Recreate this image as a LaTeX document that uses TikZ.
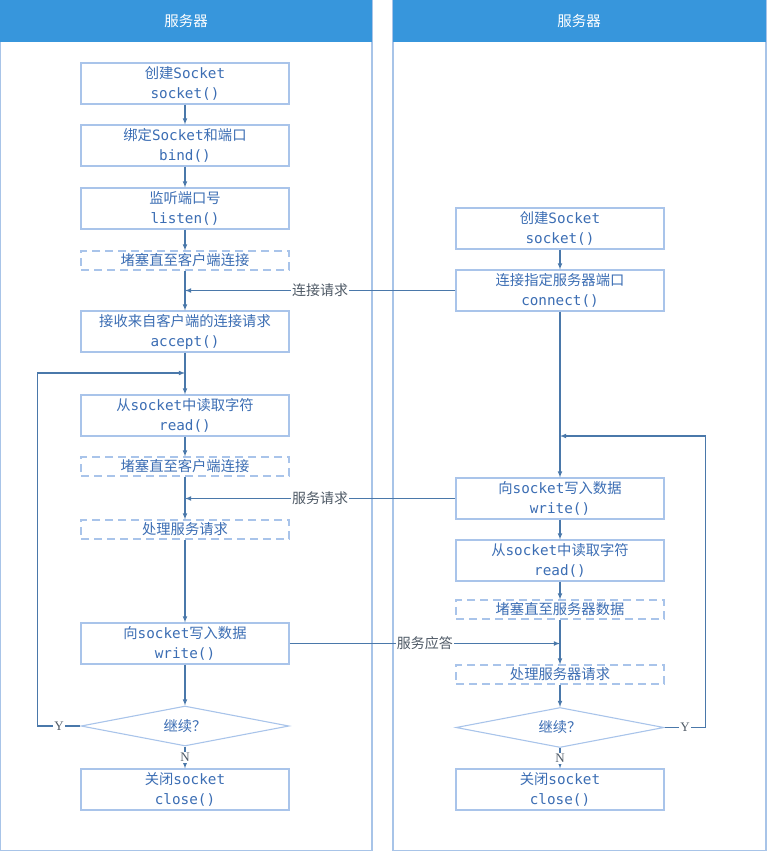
\documentclass[tikz,border=0pt]{standalone}
\usepackage{fontspec}
\setmainfont{Noto Sans CJK SC}
\setmonofont{DejaVu Sans Mono}
\newfontfamily\ynfont{Liberation Serif}
\usetikzlibrary{shapes.geometric}

\definecolor{lanehead}{HTML}{3796DC}
\definecolor{laneline}{HTML}{A8C4E8}
\definecolor{boxline}{HTML}{A9C4EA}
\definecolor{boxtext}{HTML}{3B6DB3}
\definecolor{wire}{HTML}{4A78AA}
\definecolor{wiretext}{HTML}{4F5A66}

\tikzstyle{module}=[draw=boxline, line width=1.1pt, text=boxtext, align=center, minimum width=208pt, minimum height=41pt, inner sep=0pt, font=\fontsize{14.3}{20}\selectfont]
\tikzstyle{waitbox}=[module, dash pattern=on 8pt off 5pt, minimum height=19pt]
\tikzstyle{decision}=[module, diamond, aspect=5, minimum height=40pt]
\tikzstyle{wirelabel}=[fill=white, text=wiretext, inner sep=1pt, font=\fontsize{14}{16}\selectfont]
\tikzstyle{yn}=[fill=white, text=wiretext, inner sep=1pt, font=\ynfont\fontsize{13}{14}\selectfont]

\begin{document}
\begin{tikzpicture}[x=1pt, y=-1pt, >=latex, line width=1.1pt]
  \useasboundingbox (0,0) rectangle (766,851);

  % lanes
  \draw [laneline] (0,0) rectangle (372,851);
  \draw [laneline] (393,0) rectangle (766,851);
  \fill [lanehead] (0,0) rectangle (372,42);
  \fill [lanehead] (393,0) rectangle (766,42);
  \node (headL) [text=white, font=\fontsize{14.5}{16}\selectfont] at (186,21) {服务器};
  \node (headR) [text=white, font=\fontsize{14.5}{16}\selectfont] at (579,21) {服务器};

  % left lane
  \node (sockL) [module] at (185,83.5) {创建\texttt{Socket}\\\texttt{socket()}};
  \node (bindL) [module] at (185,145.5) {绑定\texttt{Socket}和端口\\\texttt{bind()}};
  \node (listenL) [module] at (185,208.5) {监听端口号\\\texttt{listen()}};
  \node (waitL1) [waitbox] at (185,260.5) {堵塞直至客户端连接};
  \node (acceptL) [module] at (185,331.5) {接收来自客户端的连接请求\\\texttt{accept()}};
  \node (readL) [module] at (185,415.5) {从\texttt{socket}中读取字符\\\texttt{read()}};
  \node (waitL2) [waitbox] at (185,466.5) {堵塞直至客户端连接};
  \node (procL) [waitbox] at (185,529.5) {处理服务请求};
  \node (writeL) [module] at (185,643.5) {向\texttt{socket}写入数据\\\texttt{write()}};
  \node (decideL) [decision] at (185,726) {继续？};
  \node (closeL) [module] at (185,789.5) {关闭\texttt{socket}\\\texttt{close()}};

  % right lane
  \node (sockR) [module] at (560,228.5) {创建\texttt{Socket}\\\texttt{socket()}};
  \node (connectR) [module] at (560,290.5) {连接指定服务器端口\\\texttt{connect()}};
  \node (writeR) [module] at (560,498.5) {向\texttt{socket}写入数据\\\texttt{write()}};
  \node (readR) [module] at (560,560.5) {从\texttt{socket}中读取字符\\\texttt{read()}};
  \node (waitR) [waitbox] at (560,609.5) {堵塞直至服务器数据};
  \node (procR) [waitbox] at (560,674.5) {处理服务器请求};
  \node (decideR) [decision] at (560,727.5) {继续？};
  \node (closeR) [module] at (560,789.5) {关闭\texttt{socket}\\\texttt{close()}};

  \coordinate (loopL) at (185,373);
  \coordinate (loopR) at (560,436);

  \begin{scope}[draw=wire]
    \draw [->] (sockL) -- (bindL);
    \draw [->] (bindL) -- (listenL);
    \draw [->] (listenL) -- (waitL1);
    \draw [->] (waitL1) -- (acceptL);
    \draw [->] (acceptL) -- (readL);
    \draw [->] (readL) -- (waitL2);
    \draw [->] (waitL2) -- (procL);
    \draw [->] (procL) -- (writeL);
    \draw [->] (writeL) -- (decideL);
    \draw [->] (decideL) -- node [yn] {N} (closeL);
    \draw [->] (decideL.west) -- node [yn] {Y} ++(-43,0) |- (loopL);

    \draw [->] (sockR) -- (connectR);
    \draw [->] (connectR) -- (writeR);
    \draw [->] (writeR) -- (readR);
    \draw [->] (readR) -- (waitR);
    \draw [->] (waitR) -- (procR);
    \draw [->] (procR) -- (decideR);
    \draw [->] (decideR) -- node [yn] {N} (closeR);
    \draw [->] (decideR.east) -- node [yn] {Y} ++(41,0) |- (loopR);

    % messages between lanes
    \draw [->] (connectR.west) -- node [wirelabel] {连接请求} (connectR.west -| acceptL.north);
    \draw [->] (writeR.west) -- node [wirelabel] {服务请求} (writeR.west -| procL.north);
    \draw [->] (writeL.east) -- node [wirelabel] {服务应答} (writeL.east -| procR.north);
  \end{scope}
\end{tikzpicture}
\end{document}
